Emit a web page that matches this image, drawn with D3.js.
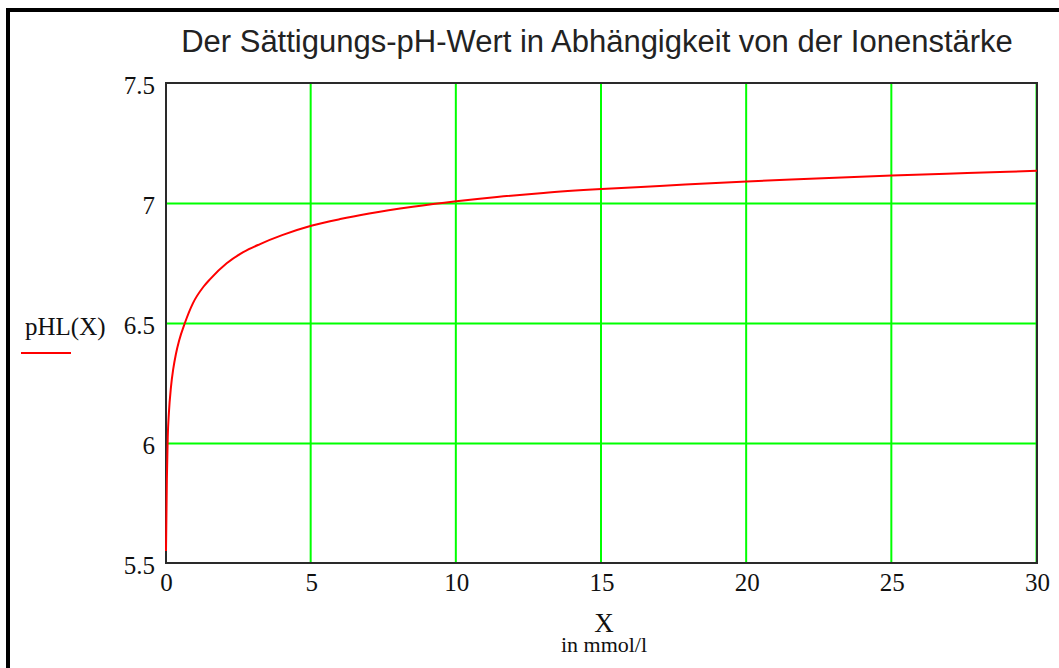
<!DOCTYPE html>
<html>
<head>
<meta charset="utf-8">
<script src="https://cdn.jsdelivr.net/npm/d3@7"></script>
<style>
  body { margin: 0; background: #fff; }
  svg { display: block; }
</style>
</head>
<body>
<svg id="chart"></svg>
<script>
// ionic strength X (mmol/l) and saturation pH
const ionX = [0, 0.03, 0.06, 0.1, 0.17, 0.25, 0.34, 0.45, 0.65, 0.93, 1.29, 1.52, 2.09, 2.66, 3.24, 4,
  5, 6, 7, 8.5, 10, 11.4, 13, 15, 17, 20, 22.4, 25, 27.6, 30];
const pHL = [5.55, 5.85, 6.024, 6.126, 6.232, 6.309, 6.37, 6.426, 6.5, 6.583, 6.651, 6.683, 6.749, 6.795, 6.829, 6.866,
  6.905, 6.933, 6.956, 6.984, 7.007, 7.025, 7.042, 7.058, 7.071, 7.09, 7.102, 7.115, 7.125, 7.134];

const xTicks = [0, 5, 10, 15, 20, 25, 30];
const yTicks = [5.5, 6, 6.5, 7, 7.5];

const title = "Der Sättigungs-pH-Wert in Abhängigkeit von der Ionenstärke";
const yLabel = "pHL(X)";
const xLabel = "X";
const xUnit = "in mmol/l";

const width = 1059, height = 668;
const margin = { top: 83, right: 22, bottom: 105, left: 166 };
const innerWidth = width - margin.left - margin.right;
const innerHeight = height - margin.top - margin.bottom;

const svg = d3.select("#chart")
  .attr("width", width)
  .attr("height", height);

svg.append("rect").attr("width", width).attr("height", height).attr("fill", "#fff");

// outer frame (only left + top visible)
svg.append("path")
  .attr("d", `M8,${height} L8,10 L${width},10`)
  .attr("fill", "none")
  .attr("stroke", "#000")
  .attr("stroke-width", 4);

const xScale = d3.scaleLinear().domain([0, 30]).range([0, innerWidth]);
const yScale = d3.scaleLinear().domain([5.5, 7.5]).range([innerHeight, 0]);

const g = svg.append("g").attr("transform", `translate(${margin.left},${margin.top})`);

// grid
g.append("g")
  .attr("class", "grid x")
  .attr("transform", `translate(0,${innerHeight})`)
  .call(d3.axisBottom(xScale).tickValues(xTicks.slice(1)).tickSize(-innerHeight))
  .call(s => s.select(".domain").remove())
  .call(s => s.selectAll("text").remove())
  .call(s => s.selectAll("line").attr("stroke", "#00ff00").attr("stroke-width", 2)
    .attr("transform", "translate(-1,0)"));

g.append("g")
  .attr("class", "grid y")
  .call(d3.axisLeft(yScale).tickValues(yTicks.slice(1, -1)).tickSize(-innerWidth))
  .call(s => s.select(".domain").remove())
  .call(s => s.selectAll("text").remove())
  .call(s => s.selectAll("line").attr("stroke", "#00ff00").attr("stroke-width", 2));

// plot frame
g.append("rect")
  .attr("width", innerWidth)
  .attr("height", innerHeight)
  .attr("fill", "none")
  .attr("stroke", "#2a2a2a")
  .attr("stroke-width", 2);

// curve
const line = d3.line()
  .x((d, i) => xScale(ionX[i]))
  .y(d => yScale(d))
  .curve(d3.curveMonotoneX);

g.append("path")
  .datum(pHL)
  .attr("d", line)
  .attr("fill", "none")
  .attr("stroke", "#ff0000")
  .attr("stroke-width", 2);

// tick labels
const labelFont = "'Liberation Serif', 'Times New Roman', serif";

g.append("g")
  .attr("transform", `translate(0,${innerHeight})`)
  .call(d3.axisBottom(xScale).tickValues(xTicks).tickSize(0).tickPadding(10).tickFormat(d3.format("d")))
  .call(s => s.select(".domain").remove())
  .call(s => s.selectAll("text")
    .attr("font-family", labelFont)
    .attr("font-size", 25)
    .attr("fill", "#111"));

g.append("g")
  .call(d3.axisLeft(yScale).tickValues(yTicks).tickSize(0).tickPadding(11).tickFormat(d => d))
  .call(s => s.select(".domain").remove())
  .call(s => s.selectAll("text")
    .attr("font-family", labelFont)
    .attr("font-size", 25)
    .attr("dy", "0.42em")
    .attr("fill", "#111"));

// title
svg.append("text")
  .attr("x", 597)
  .attr("y", 52)
  .attr("text-anchor", "middle")
  .attr("font-family", "'Liberation Sans', Arial, sans-serif")
  .attr("font-size", 31)
  .attr("fill", "#222")
  .text(title);

// y label with legend stroke
svg.append("text")
  .attr("x", 25)
  .attr("y", 335)
  .attr("font-family", labelFont)
  .attr("font-size", 25)
  .attr("fill", "#111")
  .text(yLabel);

svg.append("line")
  .attr("x1", 21).attr("x2", 71)
  .attr("y1", 353).attr("y2", 353)
  .attr("stroke", "#ff0000")
  .attr("stroke-width", 2);

// x label
svg.append("text")
  .attr("x", 604)
  .attr("y", 632)
  .attr("text-anchor", "middle")
  .attr("font-family", labelFont)
  .attr("font-size", 27)
  .attr("fill", "#111")
  .text(xLabel);

svg.append("text")
  .attr("x", 604)
  .attr("y", 652)
  .attr("text-anchor", "middle")
  .attr("font-family", labelFont)
  .attr("font-size", 22)
  .attr("fill", "#111")
  .text(xUnit);
</script>
</body>
</html>
